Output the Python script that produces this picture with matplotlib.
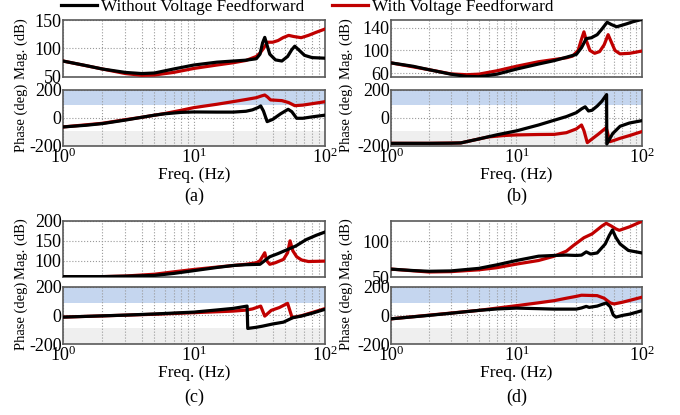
import numpy as np
import matplotlib
matplotlib.use("Agg")
import matplotlib.pyplot as plt
from matplotlib.lines import Line2D

plt.rcParams['font.family'] = ['Liberation Serif', 'DejaVu Serif']
plt.rcParams['mathtext.fontset'] = 'custom'
plt.rcParams['mathtext.rm'] = 'Liberation Serif'
plt.rcParams['mathtext.it'] = 'Liberation Serif:italic'
plt.rcParams['axes.unicode_minus'] = False

BLACK = '#000000'
RED = '#c00000'
BLUE_BAND = '#c5d6ef'
GRAY_BAND = '#efefef'

# ---- (a) ----
a_mag_wo_f = [1, 1.5, 2, 3, 4, 5, 7, 10, 15, 20, 25, 30, 32, 33.5, 34.8, 36, 38, 42, 47, 52, 56, 59, 63, 70, 80, 100]
a_mag_wo = [78, 70, 64, 58, 56, 57, 64, 71, 76, 78, 79.5, 82, 90, 110, 119.5, 108, 90, 80, 78, 86, 98, 104, 98, 88, 84, 83]
a_mag_w_f = [1, 2, 3, 4, 5, 7, 10, 15, 20, 25, 30, 32, 34, 36.5, 40, 44, 48, 53, 58, 66, 75, 85, 100]
a_mag_w = [78, 64, 56, 53, 53.5, 58, 65, 71, 75, 79, 86, 92, 100, 111, 111, 114, 119, 123, 121, 119, 123, 128, 134]
a_ph_wo_f = [1, 1.5, 2, 3, 4, 5, 6, 8, 10, 15, 20, 25, 28, 31, 32.4, 34, 36.3, 40, 46, 52.5, 56, 61, 68, 80, 100]
a_ph_wo = [-64, -52, -40, -15, 5, 20, 30, 40, 43, 42, 42, 48, 58, 75, 86, 50, -26, -10, 30, 62, 45, -2, -2, 8, 20]
a_ph_w_f = [1, 2, 3, 4, 6, 8, 10, 15, 20, 25, 30, 33, 34.8, 36.5, 38.5, 47, 53, 59, 68, 80, 100]
a_ph_w = [-64, -38, -12, 5, 32, 55, 74, 98, 117, 132, 145, 158, 164, 150, 129, 124, 110, 88, 92, 102, 116]

# ---- (b) ----
b_mag_wo_f = [1, 1.5, 2, 3, 4, 5, 7, 10, 15, 20, 25, 30, 33, 36, 39.5, 44, 48, 52.8, 57, 63, 75, 85, 100]
b_mag_wo = [78, 72, 66, 58, 54, 53.5, 58, 67, 76, 82, 88, 93, 105, 121, 122.5, 128, 138, 150, 146, 142, 147, 151, 155]
b_mag_w_f = [1, 2, 3, 4, 5, 7, 10, 15, 20, 25, 28, 31, 33, 34.5, 36, 38.5, 42, 46, 50, 53.8, 57, 61, 67, 80, 100]
b_mag_w = [78, 66, 58.5, 57, 58, 64, 72, 80, 84, 87, 90, 100, 120, 133, 118, 100, 95, 98, 110, 128, 115, 100, 94, 95, 99]
b_ph_wo_f = [1, 2, 3, 3.6, 5, 7, 10, 15, 20, 25, 30, 33, 35.3, 37.5, 40, 44, 48, 52.3, 52.5, 58.5, 67, 79.5, 100]
b_ph_wo = [-181, -181, -180, -178, -150, -120, -92, -50, -16, 10, 38, 65, 80, 50, 55, 85, 120, 167, -186, -111, -59, -36, -19]
b_ph_w_f = [1, 2, 3.6, 5, 6, 8, 10, 15, 20, 25, 30, 33, 34.5, 36.7, 40, 45, 51.9, 53, 55.5, 60, 67, 80, 100]
b_ph_w = [-181, -181, -178, -150, -135, -125, -121, -118, -117, -105, -78, -50, -90, -176, -150, -115, -69, -100, -169, -160, -145, -125, -97]

# ---- (c) ----
c_mag_wo_f = [1, 2, 3, 5, 7, 10, 15, 20, 25, 32, 38, 44, 51, 60, 72, 86, 100]
c_mag_wo = [60, 60, 61, 63, 68, 75, 83, 88, 90, 91, 110, 118, 127, 137, 153, 164, 172]
c_mag_w_f = [1, 2, 3, 5, 7, 10, 15, 20, 25, 30, 32, 34.8, 36, 38, 42, 48.4, 52, 54.3, 57, 61, 66.4, 75, 100]
c_mag_w = [60, 60, 61.5, 66, 72, 78, 84, 88, 91, 95, 100, 120, 100, 91, 95, 103.5, 120, 150, 125, 110, 102, 98, 99]
c_ph_wo_f = [1, 3, 5, 10, 15, 20, 25.5, 25.8, 30, 33.5, 40, 48.4, 57, 66, 80, 100]
c_ph_wo = [-12, 2, 10, 23, 38, 49, 65, -91, -83, -75, -60, -47, -16, -5, 15, 42]
c_ph_w_f = [1, 5, 10, 20, 25, 28, 32.4, 34.8, 39, 45, 52, 56.3, 60, 66, 80, 100]
c_ph_w = [-12, 8, 19, 30, 37, 45, 65, -5, 35, 55, 84, -16, -10, -3, 20, 47]

# ---- (d) ----
d_mag_wo_f = [1, 1.5, 2, 3, 5, 7, 10, 15, 20, 25, 30, 33, 36, 39, 44, 51, 55, 58.2, 62, 67, 78, 100]
d_mag_wo = [61, 59, 58, 58.5, 62, 67, 73, 79, 80, 80.5, 80, 80.5, 85, 82, 83.5, 96, 108, 115.5, 105, 96, 87, 83.5]
d_mag_w_f = [1, 2, 3, 5, 7, 10, 15, 20, 25, 28.5, 34.5, 40, 44, 48, 51.9, 57, 62, 66, 80, 100]
d_mag_w = [61, 57, 57.5, 60, 63, 68, 73, 79, 86, 94, 104.7, 110, 115.7, 121, 124.8, 121, 117, 115, 120, 127.5]
d_ph_wo_f = [1, 2, 3, 5, 7, 10, 15, 20, 30, 33, 36, 38, 44, 51.9, 56, 59, 62, 70, 80, 100]
d_ph_wo = [-24, 0, 15, 35, 45, 51, 47, 44, 44, 52, 63, 56, 65, 87, 60, 4, -12, 0, 9, 33]
d_ph_w_f = [1, 5, 10, 15, 20, 25, 30, 33, 40, 44, 50, 56, 60, 70, 80, 100]
d_ph_w = [-24, 35, 68, 88, 103, 120, 133, 141, 139, 138, 120, 87, 80, 92, 105, 127]

panels = [
    ('(a)', [0.0926, 0.385], (50, 150), [50, 100, 150],
     (a_mag_wo_f, a_mag_wo), (a_mag_w_f, a_mag_w), (a_ph_wo_f, a_ph_wo), (a_ph_w_f, a_ph_w)),
    ('(b)', [0.575, 0.369], (53, 154), [60, 100, 140],
     (b_mag_wo_f, b_mag_wo), (b_mag_w_f, b_mag_w), (b_ph_wo_f, b_ph_wo), (b_ph_w_f, b_ph_w)),
    ('(c)', [0.0926, 0.385], (59, 200), [100, 150, 200],
     (c_mag_wo_f, c_mag_wo), (c_mag_w_f, c_mag_w), (c_ph_wo_f, c_ph_wo), (c_ph_w_f, c_ph_w)),
    ('(d)', [0.575, 0.369], (50, 128), [50, 100],
     (d_mag_wo_f, d_mag_wo), (d_mag_w_f, d_mag_w), (d_ph_wo_f, d_ph_wo), (d_ph_w_f, d_ph_w)),
]

# rows: (mag bottom, mag height, phase bottom, phase height, tag y)
rows = [(0.8145, 0.1373, 0.6482, 0.135, 0.528),
        (0.3325, 0.135, 0.171, 0.138, 0.043)]

fig = plt.figure(figsize=(6.8, 4.15), dpi=100)


def style_axes(ax):
    ax.set_xscale('log')
    ax.set_xlim(1, 100)
    for sp in ax.spines.values():
        sp.set_color('#5a5a5a')
        sp.set_linewidth(1.2)
    ax.grid(True, which='major', axis='both', linestyle=':', color='#9a9a9a', linewidth=0.8)
    ax.grid(True, which='minor', axis='x', linestyle=':', color='#9a9a9a', linewidth=0.8)
    ax.tick_params(which='both', length=0, labelsize=13, pad=1)


for i, (tag, (left, width), mlim, mticks, mwo, mw, pwo, pw) in enumerate(panels):
    mb, mh, pb, ph, ty = rows[i // 2]

    ax_m = fig.add_axes([left, mb, width, mh])
    style_axes(ax_m)
    ax_m.plot(mwo[0], mwo[1], color=BLACK, lw=2.3, zorder=4)
    ax_m.plot(mw[0], mw[1], color=RED, lw=2.3, zorder=3)
    ax_m.set_ylim(*mlim)
    ax_m.set_yticks(mticks)
    ax_m.tick_params(axis='x', which='both', labelbottom=False)
    ax_m.set_ylabel('Mag. (dB)', fontsize=10.5)

    ax_p = fig.add_axes([left, pb, width, ph])
    style_axes(ax_p)
    ax_p.axhspan(90, 200, color=BLUE_BAND, lw=0, zorder=0)
    ax_p.axhspan(-200, -90, color=GRAY_BAND, lw=0, zorder=0)
    ax_p.plot(pwo[0], pwo[1], color=BLACK, lw=2.3, zorder=4)
    ax_p.plot(pw[0], pw[1], color=RED, lw=2.3, zorder=3)
    ax_p.set_ylim(-200, 200)
    ax_p.set_yticks([-200, 0, 200])
    ax_p.set_xticks([1, 10, 100])
    ax_p.set_xticklabels([r'$10^0$', r'$10^1$', r'$10^2$'])
    ax_p.set_ylabel('Phase (deg)', fontsize=10.5)
    ax_p.set_xlabel('Freq. (Hz)', fontsize=12.5, labelpad=0)

    # y labels sit in the left margin, centred roughly 41 px / 44 px off the axes
    lx = -0.134 if left < 0.3 else -0.151
    ax_m.yaxis.set_label_coords(lx, 0.5)
    ax_p.yaxis.set_label_coords(lx, 0.5)

    fig.text(left + width / 2, ty, tag, ha='center', va='center', fontsize=13)

handles = [Line2D([], [], color=BLACK, lw=2.3), Line2D([], [], color=RED, lw=2.3)]
fig.legend(handles, ['Without Voltage Feedforward', 'With Voltage Feedforward'],
           loc='center', bbox_to_anchor=(0.452, 0.982), ncol=2, frameon=False,
           fontsize=12.3, handlelength=2.1, handletextpad=0.25, columnspacing=1.6,
           borderpad=0, borderaxespad=0)

fig.savefig('out.png', dpi=100)
